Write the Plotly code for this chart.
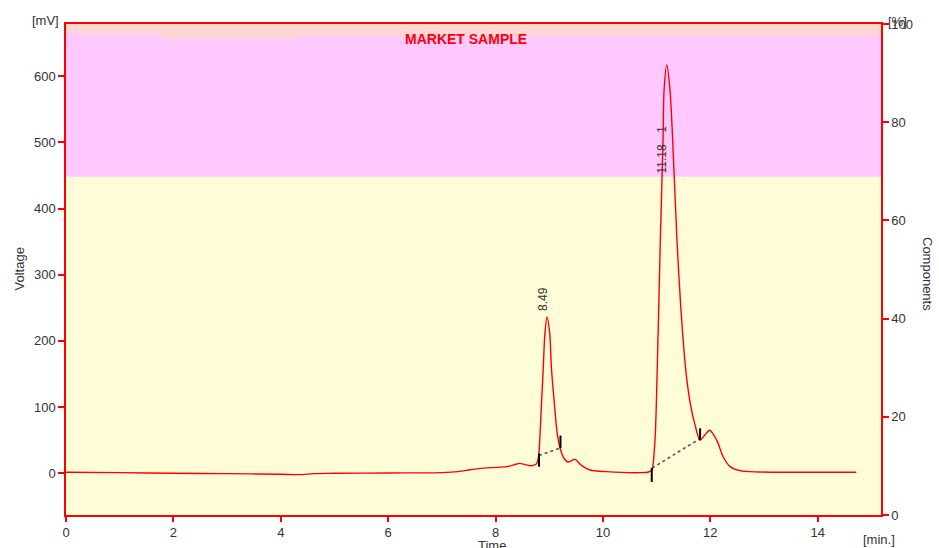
import plotly.graph_objects as go

# ---------------- data ----------------
time_min = [0.0, 1.0, 2.0, 3.0, 4.0, 4.4, 4.6, 5.0, 6.0, 7.0, 7.3, 7.5, 7.58, 7.9, 8.21,
            8.35, 8.45, 8.55, 8.64, 8.70, 8.76, 8.80, 8.83, 8.86, 8.89, 8.92, 8.96,
            9.01, 9.04, 9.09, 9.15, 9.21, 9.28, 9.35, 9.48, 9.60, 9.76, 10.07, 10.70,
            10.85, 10.91, 10.97, 11.01, 11.07, 11.12, 11.14, 11.19, 11.25, 11.30,
            11.38, 11.45, 11.55, 11.64, 11.71, 11.81, 11.90, 11.99, 12.12, 12.24,
            12.37, 12.55, 12.90, 13.50, 14.00, 14.72]
voltage_mv = [1.5, 1.0, 0.0, -0.5, -1.5, -2.0, -0.5, 0.0, 0.5, 1.0, 2.5, 5.0, 6.0, 8.5, 10.0,
              13.0, 15.0, 13.0, 11.5, 12.0, 14.0, 24.0, 60.0, 111.0, 161.0, 211.0, 236.0,
              211.0, 161.0, 111.0, 60.0, 36.0, 22.0, 17.0, 21.0, 12.0, 5.0, 2.5, 1.0,
              2.0, 5.0, 50.0, 151.0, 352.0, 503.0, 579.0, 617.0, 579.0, 503.0,
              352.0, 252.0, 151.0, 100.0, 75.0, 50.0, 58.0, 65.0, 50.0, 25.0,
              10.0, 4.0, 2.0, 1.5, 1.5, 1.5]

# integration baselines (start/end of each peak)
base_t_start = [8.81, 10.92]
base_v_start = [27.0, 8.0]
base_t_end = [9.20, 11.80]
base_v_end = [38.0, 52.0]

# peak boundary tick markers
marker_t = [8.81, 9.21, 10.91, 11.81]
marker_v_low = [10.0, 38.0, -13.0, 50.0]
marker_v_high = [30.0, 57.0, 8.0, 68.0]

# peak labels
peak_labels = ["8.49", "11.18", "1"]
peak_label_t = [8.88, 11.095, 11.095]
peak_label_v = [263.0, 475.0, 520.0]

x_ticks = [0, 2, 4, 6, 8, 10, 12, 14]
y_ticks = [0, 100, 200, 300, 400, 500, 600]
y2_ticks = [0, 20, 40, 60, 80, 100]

X_RANGE = [0, 15.18]
Y_RANGE = [-63.0, 678.7]
Y2_RANGE = [0, 100]

FONT = "Liberation Sans, Arial, sans-serif"
TXT = "#333333"
RED = "#ff0000"

fig = go.Figure()

fig.add_trace(go.Scatter(x=time_min, y=voltage_mv, mode="lines",
                         line=dict(color=RED, width=1.4, shape="spline", smoothing=0.8),
                         hoverinfo="skip", showlegend=False))

for ts, vs, te, ve in zip(base_t_start, base_v_start, base_t_end, base_v_end):
    fig.add_trace(go.Scatter(x=[ts, te], y=[vs, ve], mode="lines",
                             line=dict(color="#555555", width=1.6, dash="dot"),
                             hoverinfo="skip", showlegend=False))

for t, lo, hi in zip(marker_t, marker_v_low, marker_v_high):
    fig.add_trace(go.Scatter(x=[t, t], y=[lo, hi], mode="lines",
                             line=dict(color="black", width=2),
                             hoverinfo="skip", showlegend=False))

# invisible trace to attach the right axis
fig.add_trace(go.Scatter(x=[0], y=[0], yaxis="y2", mode="markers",
                         marker=dict(opacity=0), hoverinfo="skip", showlegend=False))

# background bands
shapes = [
    dict(type="rect", xref="paper", yref="y", x0=0, x1=1, y0=448, y1=Y_RANGE[1],
         fillcolor="#ffc8ff", line=dict(width=0), layer="below"),
    dict(type="rect", xref="paper", yref="y", x0=0, x1=0.118, y0=663.6, y1=Y_RANGE[1],
         fillcolor="#ffd6d6", line=dict(width=0), layer="below"),
    dict(type="rect", xref="paper", yref="y", x0=0.118, x1=0.281, y0=656, y1=Y_RANGE[1],
         fillcolor="#ffd6d6", line=dict(width=0), layer="below"),
    dict(type="rect", xref="paper", yref="y", x0=0.281, x1=1, y0=660, y1=Y_RANGE[1],
         fillcolor="#ffd6d6", line=dict(width=0), layer="below"),
]

annotations = []
for txt, t, v in zip(peak_labels, peak_label_t, peak_label_v):
    annotations.append(dict(x=t, y=v, xref="x", yref="y", text=txt, showarrow=False,
                            textangle=-90, font=dict(family=FONT, size=12, color=TXT)))


def pa(px, py, text, size=13, angle=0, color=TXT, bold=False):
    return dict(x=(px - 66) / 815, y=(515 - py) / 491, xref="paper", yref="paper",
                text=f"<b>{text}</b>" if bold else text, showarrow=False, textangle=angle,
                xanchor="center", yanchor="middle",
                font=dict(family=FONT, size=size, color=color))


annotations += [
    pa(465.5, 39, "MARKET SAMPLE", size=14, color=RED, bold=True),
    pa(45, 20, "[mV]"),
    pa(897, 21, "[%]"),
    pa(879, 539, "[min.]"),
    pa(492, 545, "Time"),
    pa(18.5, 269, "Voltage", angle=-90),
    pa(928, 274, "Components", angle=90),
]

axis_common = dict(showgrid=False, zeroline=False, showline=True, linecolor=RED,
                   linewidth=1.5, ticks="outside", tickcolor=RED, tickwidth=2,
                   automargin=False,
                   tickfont=dict(family=FONT, size=13, color=TXT))

fig.update_layout(
    width=939, height=548,
    margin=dict(l=66, r=58, t=24, b=33),
    paper_bgcolor="white",
    plot_bgcolor="#fffdd8",
    showlegend=False,
    shapes=shapes,
    annotations=annotations,
    xaxis=dict(range=X_RANGE, tickvals=x_ticks, ticklen=5, mirror=True, **axis_common),
    yaxis=dict(range=Y_RANGE, tickvals=y_ticks, ticklen=6, **axis_common),
    yaxis2=dict(range=Y2_RANGE, tickvals=y2_ticks, ticklen=6, overlaying="y", side="right",
                **axis_common),
)

fig.write_html("out.html", config={"displayModeBar": False},
               post_script="document.body.style.margin='0';document.body.style.overflow='hidden';")
